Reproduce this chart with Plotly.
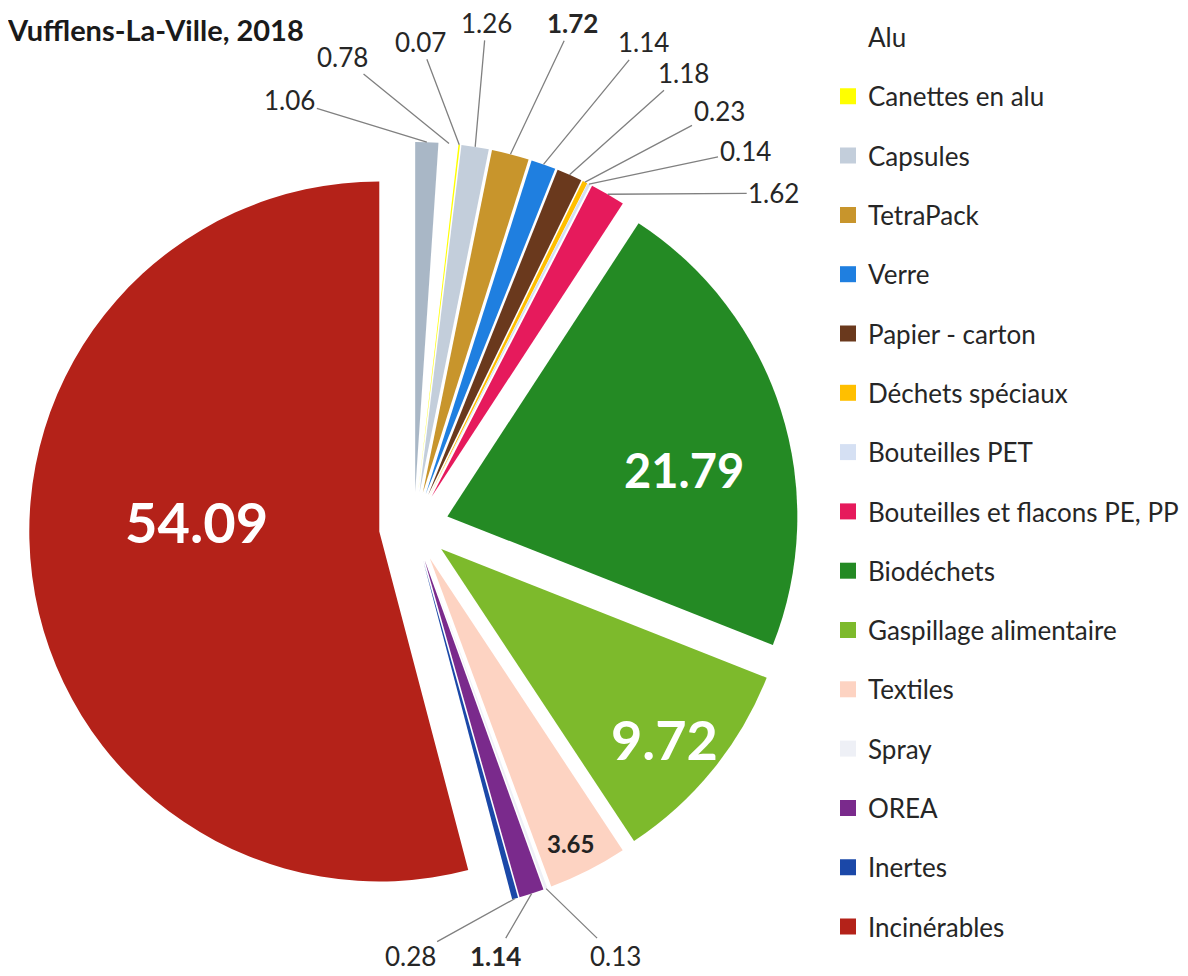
import math
import plotly.graph_objects as go

# ---------------- data ----------------
labels = ["Fer blanc", "Alu", "Canettes en alu", "Capsules", "TetraPack", "Verre",
          "Papier - carton", "Déchets spéciaux", "Bouteilles PET",
          "Bouteilles et flacons PE, PP", "Biodéchets", "Gaspillage alimentaire",
          "Textiles", "Spray", "OREA", "Inertes", "Incinérables"]
values = [1.06, 0.78, 0.07, 1.26, 1.72, 1.14, 1.18, 0.23, 0.14, 1.62,
          21.79, 9.72, 3.65, 0.13, 1.14, 0.28, 54.09]
colors = ["#a9b7c6", "#ffffff", "#ffff00", "#c3cedb", "#c8952c", "#1f7fe0",
          "#6a391d", "#ffbf00", "#d5e0f3", "#e61a5c", "#248a24", "#7dba2c",
          "#fdd3c2", "#eef0f6", "#7a2a8c", "#1b48a8", "#b42219"]
legend_first = 1            # first slice's legend entry lies outside the picture
title_text = "Vufflens-La-Ville, 2018"

# ---------------- layout constants ----------------
OFF = 8                     # page body margin (px)
W, H = 1180, 968
CX, CY = 414, 527           # pie centre (page px)
R_OUT = 385                 # radius including pull (px)
PULL = 0.1
R = R_OUT / (1 + PULL)
FONT = "Lato"

total = sum(values)
mids = []
cum = 0.0
for v in values:
    mids.append((cum + v / 2) / total * 360.0)
    cum += v


def polar(theta, rad, cx=CX, cy=CY):
    t = math.radians(theta)
    return cx + rad * math.sin(t), cy - rad * math.cos(t)


def paper(x, y):
    return (x - OFF) / W, 1 - (y - OFF) / H


# outside labels: index -> (dx, dy) offset of text from slice edge, bold
outside = {0: (-137, -42, False), 1: (-107, -87, False), 2: (-39, -103, False),
           3: (11, -124, False), 4: (62, -131, True), 5: (100, -122, False),
           6: (114, -102, False), 7: (134, -71, False), 8: (156, -33, False),
           9: (166, -1, False), 13: (69, 67, False), 14: (-36, 62, True),
           15: (-105, 58, False)}
# inside labels: index -> (radial fraction, angle shift, size, colour)
inside = {16: (0.524, 10.4, 56, "#ffffff"), 10: (0.689, 6.6, 47, "#ffffff"),
          11: (0.84, 1.4, 54, "#ffffff"), 12: (0.91, 0.6, 24, "#222222")}

annotations = []
for i, (dx, dy, bold) in outside.items():
    ex, ey = polar(mids[i], R_OUT)
    px, py = paper(ex, ey)
    txt = f"{values[i]:.2f}"
    if bold:
        txt = f"<b>{txt}</b>"
    annotations.append(dict(x=px, y=py, xref="paper", yref="paper", text=txt,
                            showarrow=True, arrowhead=0, arrowwidth=1.3,
                            arrowcolor="#808080", ax=dx, ay=dy, standoff=0,
                            xanchor="center", yanchor="middle",
                            font=dict(family=FONT, size=26, color="#262626")))
for i, (frac, dth, size, col) in inside.items():
    axp, ayp = polar(mids[i], PULL * R)
    tx, ty = polar(mids[i] + dth, frac * R, axp, ayp)
    px, py = paper(tx, ty)
    annotations.append(dict(x=px, y=py, xref="paper", yref="paper",
                            text=f"<b>{values[i]:.2f}</b>", showarrow=False,
                            xanchor="center", yanchor="middle",
                            font=dict(family=FONT, size=size, color=col)))

x0, y0 = paper(CX - R_OUT, CY + R_OUT)
x1, y1 = paper(CX + R_OUT, CY - R_OUT)

fig = go.Figure()
fig.add_trace(go.Pie(labels=labels, values=values,
                     marker=dict(colors=colors, line=dict(width=0)),
                     sort=False, direction="clockwise", rotation=0,
                     pull=[PULL] * len(values), textinfo="none",
                     domain=dict(x=[x0, x1], y=[y0, y1]), showlegend=False))
# legend entries (one per category, no visible marks)
for k in range(legend_first, len(labels)):
    fig.add_trace(go.Scatter(x=[None], y=[None], mode="markers", name=labels[k],
                             legendgroup=f"g{k}",
                             marker=dict(symbol="square", size=16, color=colors[k],
                                         line=dict(width=0)),
                             hoverinfo="skip"))

fig.update_layout(
    width=W, height=H,
    margin=dict(l=0, r=0, t=0, b=0, autoexpand=False),
    paper_bgcolor="white", plot_bgcolor="white",
    xaxis=dict(visible=False), yaxis=dict(visible=False),
    title=dict(text=f"<b>{title_text}</b>", x=0, xref="container", xanchor="left",
               y=1 - (41 - OFF) / H, yref="container", yanchor="bottom",
               font=dict(family=FONT, size=29, color="#1a1a1a")),
    legend=dict(x=820 / W, xanchor="left", y=1 - 5.6 / H, yanchor="top",
                traceorder="grouped", tracegroupgap=22.5,
                valign="middle", bgcolor="rgba(0,0,0,0)",
                font=dict(family=FONT, size=26, color="#262626")),
    annotations=annotations,
)

fig.write_html("out.html")
